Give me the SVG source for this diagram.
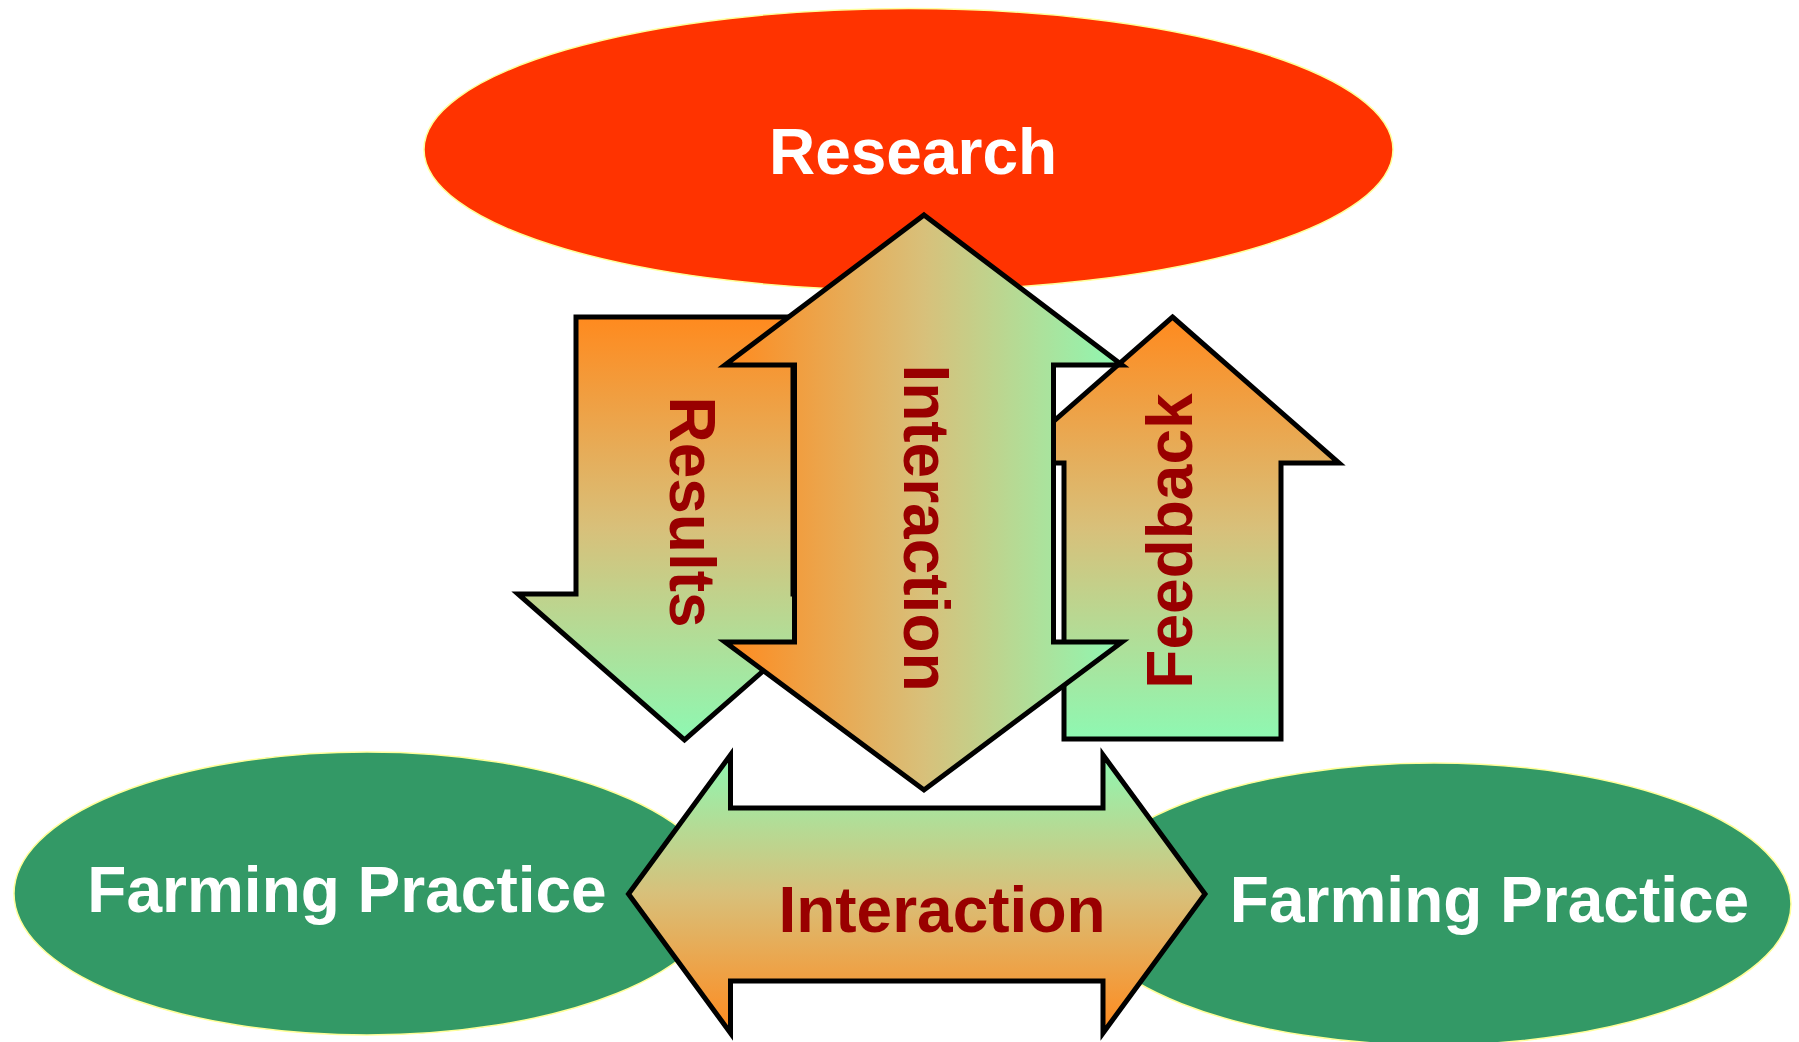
<svg xmlns="http://www.w3.org/2000/svg" width="1799" height="1042" viewBox="0 0 1799 1042">
<style>
.lbl{font-family:"Liberation Sans",Arial,Helvetica,sans-serif;font-weight:bold;font-size:64px;text-anchor:middle}
.w{fill:#FFFFFF}
.r{fill:#990000}
.arrow{stroke:#000;stroke-width:5;stroke-linejoin:miter;stroke-miterlimit:10}
.ell{stroke:#FFFF99;stroke-width:1.5}
</style>
<defs>
<linearGradient id="gDown" gradientUnits="userSpaceOnUse" x1="0" y1="317" x2="0" y2="739">
<stop offset="0" stop-color="#FF8A1E"/><stop offset="0.5" stop-color="#D8C07A"/><stop offset="1" stop-color="#8EF8B2"/>
</linearGradient>
<linearGradient id="gUp" gradientUnits="userSpaceOnUse" x1="0" y1="317" x2="0" y2="739">
<stop offset="0" stop-color="#FF8A1E"/><stop offset="0.5" stop-color="#D8C07A"/><stop offset="1" stop-color="#8EF8B2"/>
</linearGradient>
<linearGradient id="gVert" gradientUnits="userSpaceOnUse" x1="725" y1="0" x2="1122" y2="0">
<stop offset="0" stop-color="#FF8A1E"/><stop offset="0.5" stop-color="#D8C07A"/><stop offset="1" stop-color="#8EF8B2"/>
</linearGradient>
<linearGradient id="gHoriz" gradientUnits="userSpaceOnUse" x1="0" y1="755" x2="0" y2="1033">
<stop offset="0" stop-color="#8EF8B2"/><stop offset="0.5" stop-color="#D8C07A"/><stop offset="1" stop-color="#FF8A1E"/>
</linearGradient>
</defs>
<rect width="1799" height="1042" fill="#FFFFFF"/>
<g id="research">
<ellipse class="ell" cx="908.5" cy="149.5" rx="484.5" ry="141" fill="#FF3300"/>
<text class="lbl w" x="913" y="174">Research</text>
</g>
<g id="farming-left">
<ellipse class="ell" cx="367" cy="893.5" rx="353" ry="141.5" fill="#339966"/>
<text class="lbl w" x="347" y="912">Farming Practice</text>
</g>
<g id="farming-right">
<ellipse class="ell" cx="1434" cy="904" rx="357" ry="141" fill="#339966"/>
<text class="lbl w" x="1489.5" y="922">Farming Practice</text>
</g>
<g id="connectors">
<g id="results">
<polygon class="arrow" fill="url(#gDown)" points="576,317 793,317 793,594 851,594 684.5,740 518,594 576,594"/>
<text class="lbl r" transform="translate(670,512) rotate(90)">Results</text>
</g>
<g id="feedback">
<polygon class="arrow" fill="url(#gUp)" points="1172.5,317 1339,463 1281,463 1281,739 1064,739 1064,463 1006,463"/>
<text class="lbl r" transform="translate(1192,541) rotate(-90)">Feedback</text>
</g>
<g id="interaction-vertical">
<polygon class="arrow" fill="url(#gVert)" points="924,215 1122,365 1053.5,365 1053.5,642 1122,642 924,790 725,642 794.5,642 794.5,365 725,365"/>
<text class="lbl r" transform="translate(904,528) rotate(90)">Interaction</text>
</g>
<g id="interaction-horizontal">
<polygon class="arrow" fill="url(#gHoriz)" points="628.5,894 730.5,755 730.5,808 1103,808 1103,755 1205,894 1103,1033 1103,981 730.5,981 730.5,1033"/>
<text class="lbl r" x="942" y="932">Interaction</text>
</g>
</g>
</svg>
